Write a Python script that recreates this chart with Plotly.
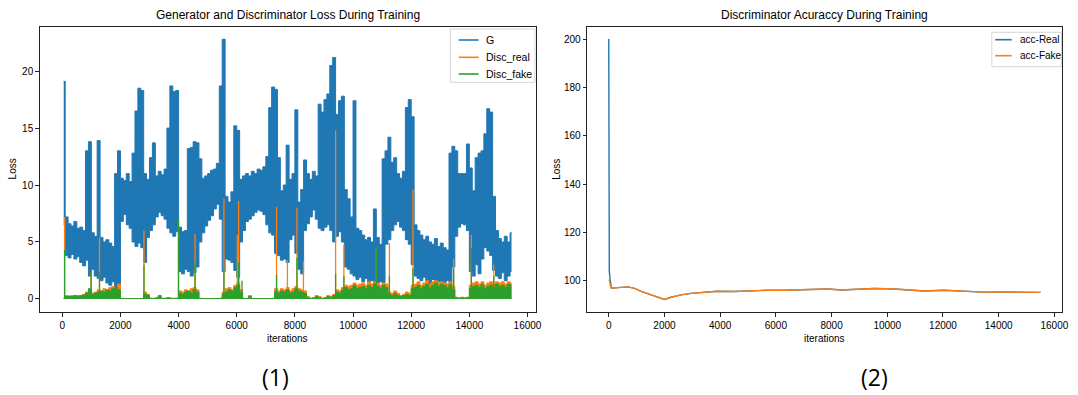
import plotly.graph_objects as go

W, H = 1078, 395
BIN = 100  # iterations per envelope bin

# ---------------- Panel (1): loss envelopes, one value per 100-iteration bin ----------------
g_low = [
    6.5, 3.8, 3.6, 3.9, 3.5, 3.7, 3.2, 2.9, 3.4, 2.0,
    2.6, 2.0, 1.8, 1.6, 1.9, 1.4, 1.2, 1.5, 1.0, 1.2,
    6.8, 7.4, 6.5, 6.2, 5.0, 4.6, 4.9, 4.5, 3.2, 5.4,
    6.0, 6.5, 7.2, 7.6, 7.3, 7.0, 6.2, 5.8, 5.5, 5.9,
    2.4, 2.2, 2.6, 2.4, 2.0, 2.3, 2.8, 5.0, 5.8, 6.4,
    6.9, 7.3, 7.9, 8.3, 7.0, 2.4, 3.5, 3.4, 3.2, 2.5,
    1.9, 5.0, 6.0, 6.8, 7.0, 7.3, 7.6, 7.8, 7.7, 7.4,
    6.5, 5.8, 5.6, 4.0, 3.8, 3.4, 3.5, 3.2, 5.2, 5.6,
    4.0, 2.6, 2.2, 6.0, 6.6, 7.2, 7.8, 7.0, 6.2, 6.0,
    6.3, 6.5, 6.0, 5.0, 5.5, 5.9, 5.0, 2.8, 2.6, 2.2,
    2.0, 1.7, 1.9, 1.5, 1.8, 1.4, 1.6, 1.3, 1.2, 1.5,
    1.4, 4.8, 5.2, 6.0, 6.5, 6.8, 6.3, 6.0, 5.2, 4.8,
    3.0, 2.0, 1.8, 1.6, 1.9, 1.5, 1.3, 1.7, 1.2, 1.5,
    1.4, 1.1, 1.6, 1.4, 2.8, 5.5, 6.3, 6.6, 6.5, 6.0,
    2.4, 2.0, 3.0, 2.2, 3.5, 4.5, 4.2, 3.8, 2.5, 2.0,
    1.8, 2.3, 1.6, 2.0, 2.4,
]
g_high = [
    19.1, 7.2, 6.6, 6.4, 6.8, 6.2, 6.3, 6.0, 13.0, 13.8,
    5.8, 5.5, 13.9, 5.4, 5.0, 5.2, 4.9, 4.6, 11.0, 13.0,
    10.6, 10.4, 11.0, 10.3, 12.8, 16.5, 18.5, 18.3, 11.0, 10.5,
    12.4, 13.7, 10.8, 11.2, 10.9, 11.4, 15.0, 18.7, 18.2, 18.3,
    6.3, 5.9, 6.0, 13.2, 13.3, 13.8, 13.7, 12.3, 10.6, 10.8,
    11.0, 11.3, 11.4, 11.9, 18.7, 22.8, 9.0, 8.5, 9.4, 15.2,
    14.8, 10.5, 10.8, 11.0, 10.8, 11.2, 11.0, 11.4, 11.3, 11.6,
    12.5, 16.8, 18.6, 18.4, 12.4, 9.5, 10.0, 13.5, 10.5, 11.0,
    16.6, 8.5, 9.6, 12.2, 11.0, 10.5, 11.2, 10.8, 17.1, 16.4,
    17.5, 18.0, 20.5, 21.2, 16.2, 17.4, 17.8, 9.6, 8.8, 7.2,
    17.4, 6.2, 6.0, 5.6, 5.2, 5.4, 5.0, 7.9, 5.4, 4.8,
    12.3, 13.0, 14.2, 12.0, 12.4, 11.0, 10.6, 11.2, 16.8, 17.5,
    16.0, 6.5, 6.0, 5.6, 5.2, 5.5, 5.0, 4.8, 5.3, 4.6,
    4.9, 4.5, 4.3, 12.8, 13.4, 13.0, 11.0, 11.0, 11.0, 13.6,
    11.5, 9.5, 12.4, 12.8, 13.0, 14.5, 16.7, 16.4, 9.0, 6.0,
    5.3, 5.0, 5.5, 5.0, 5.8,
]
real_level = [
    0.05, 0.3, 0.2, 0.3, 0.25, 0.3, 0.2, 0.4, 0.6, 0.7,
    0.5, 0.6, 0.8, 0.6, 0.9, 0.7, 1.0, 1.1, 0.9, 1.3,
    0.04, 0.03, 0.03, 0.03, 0.03, 0.03, 0.03, 0.04, 0.6, 0.4,
    0.05, 0.05, 0.1, 0.2, 0.05, 0.05, 0.1, 0.05, 0.05, 0.05,
    0.7, 0.6, 0.8, 0.6, 0.9, 1.0, 0.8, 0.05, 0.03, 0.03,
    0.03, 0.03, 0.03, 0.03, 0.05, 0.6, 0.9, 1.0, 0.8, 1.2,
    1.4, 0.8, 0.05, 0.03, 0.3, 0.03, 0.03, 0.03, 0.03, 0.03,
    0.03, 0.03, 0.05, 0.9, 0.7, 0.9, 0.8, 1.0, 0.7, 0.9,
    1.1, 0.9, 0.8, 0.7, 0.2, 0.05, 0.1, 0.3, 0.2, 0.05,
    0.1, 0.3, 0.2, 0.4, 0.8, 0.7, 1.0, 1.2, 1.1, 1.2,
    1.4, 1.2, 1.3, 1.4, 1.2, 1.5, 1.3, 1.5, 1.4, 1.2,
    1.4, 1.3, 0.6, 0.5, 0.7, 0.5, 0.3, 0.4, 0.6, 0.5,
    1.2, 1.3, 1.5, 1.2, 1.4, 1.6, 1.3, 1.5, 1.6, 1.4,
    1.5, 1.4, 1.3, 1.5, 1.1, 0.15, 0.1, 0.15, 0.1, 0.15,
    1.2, 1.4, 1.5, 1.3, 1.5, 1.2, 1.4, 1.5, 1.3, 1.5,
    1.4, 1.5, 1.3, 1.5, 1.4,
]
fake_level = [
    0.05, 0.2, 0.25, 0.2, 0.3, 0.2, 0.3, 0.35, 0.5, 0.9,
    0.4, 0.5, 0.6, 0.7, 0.6, 0.8, 0.7, 0.9, 1.0, 0.8,
    0.03, 0.03, 0.03, 0.03, 0.03, 0.03, 0.03, 0.03, 0.4, 0.3,
    0.05, 0.04, 0.08, 0.3, 0.04, 0.05, 0.1, 0.05, 0.04, 0.05,
    0.5, 0.4, 0.6, 0.7, 0.5, 0.8, 0.6, 0.04, 0.03, 0.03,
    0.03, 0.03, 0.03, 0.03, 0.05, 0.4, 0.6, 0.8, 0.7, 1.0,
    1.2, 0.6, 0.04, 0.03, 0.2, 0.03, 0.03, 0.03, 0.03, 0.03,
    0.03, 0.03, 0.04, 0.6, 0.5, 0.7, 0.6, 0.8, 0.5, 0.6,
    0.9, 0.7, 0.6, 0.5, 0.1, 0.05, 0.08, 0.2, 0.1, 0.05,
    0.1, 0.2, 0.15, 0.3, 0.6, 0.5, 0.8, 1.0, 0.8, 0.9,
    1.2, 0.9, 1.0, 1.1, 0.9, 1.2, 1.0, 1.3, 1.1, 0.9,
    1.2, 1.0, 0.4, 0.3, 0.5, 0.3, 0.2, 0.3, 0.4, 0.3,
    0.9, 1.0, 1.2, 0.9, 1.1, 1.3, 1.0, 1.2, 1.4, 1.1,
    1.3, 1.2, 1.0, 1.3, 0.8, 0.1, 0.05, 0.1, 0.05, 0.1,
    0.9, 1.1, 1.2, 1.0, 1.3, 0.9, 1.1, 1.2, 1.0, 1.3,
    1.1, 1.2, 1.0, 1.3, 1.2,
]
real_spike_iters = [80, 990, 1280, 2810, 3997, 4565, 5560, 6020, 6065, 7370, 7743,
                    8071, 8294, 9400, 9685, 10800, 11250, 12060, 13460, 14068, 14840]
real_spike_vals = [7.2, 2.3, 5.4, 6.0, 6.8, 5.7, 8.8, 5.6, 8.6, 8.1, 3.4,
                   8.0, 3.3, 14.8, 4.7, 4.3, 4.9, 9.6, 3.5, 5.6, 3.0]
fake_spike_iters = [80, 990, 1280, 2810, 3997, 4565, 5560, 6065, 6180, 7370,
                    8071, 9400, 9685, 10800, 11250, 12060, 13460, 14068, 14840]
fake_spike_vals = [4.3, 2.5, 2.4, 3.0, 7.0, 3.2, 2.5, 3.2, 1.6, 2.1,
                   3.6, 2.2, 2.0, 4.6, 2.0, 2.7, 2.7, 4.5, 2.0]

loss_names = ["G", "Disc_real", "Disc_fake"]
loss_colors = ["#1f77b4", "#ff7f0e", "#2ca02c"]

# ---------------- Panel (2): discriminator accuracy ----------------
acc_iters = [0, 30, 60, 95, 333, 690, 929, 1167, 1524, 1762, 2000, 2238, 2595, 2952,
             3310, 3905, 4500, 5095, 5690, 6286, 6881, 7393, 7714, 7869, 8345, 8940,
             9536, 10250, 10726, 11321, 12036, 12750, 13464, 14060, 14774, 15500]
acc_fake = [100.5, 100.0, 97.8, 96.9, 97.2, 97.5, 96.9, 95.6, 94.2, 93.1, 92.3, 93.2,
            94.2, 94.8, 95.2, 95.7, 95.6, 96.0, 96.1, 96.1, 96.4, 96.6, 96.8, 96.6,
            96.2, 96.6, 96.8, 96.6, 96.2, 95.8, 96.1, 95.6, 95.3, 95.4, 95.4, 95.2]
acc_real_iters = [0, 4, 10, 20, 40, 70, 95, 333, 690, 929, 1167, 1524, 1762, 2000, 2238,
                  2595, 2952, 3310, 3905, 4500, 5095, 5690, 6286, 6881, 7393, 7714, 7869,
                  8345, 8940, 9536, 10250, 10726, 11321, 12036, 12750, 13464, 14060,
                  14774, 15500]
acc_real = [200.0, 150.0, 118.0, 104.0, 101.5, 98.0, 96.9, 97.2, 97.5, 96.9, 95.6, 94.2,
            93.1, 92.3, 93.2, 94.2, 94.8, 95.2, 95.7, 95.6, 96.0, 96.1, 96.1, 96.4, 96.6,
            96.8, 96.6, 96.2, 96.6, 96.8, 96.6, 96.2, 95.8, 96.1, 95.6, 95.3, 95.4, 95.4,
            95.2]
acc_names = ["acc-Real", "acc-Fake"]
acc_colors = ["#1f77b4", "#ff7f0e"]

x_ticks = list(range(0, 16001, 2000))
x_tick_text = [str(v) for v in x_ticks]
loss_ticks = [0, 5, 10, 15, 20]
acc_ticks = [100, 120, 140, 160, 180, 200]

bin_x = [i * BIN + BIN // 2 for i in range(len(g_low))]


def spikes_xy(its, vals):
    xs, ys = [], []
    for it, v in zip(its, vals):
        xs += [it, it, None]
        ys += [0.0, v, None]
    return xs, ys


FONT = "Liberation Sans, Arial, sans-serif"
fig = go.Figure()
common = dict(mode="lines", xaxis="x", yaxis="y", showlegend=False, hoverinfo="skip")
# G: band between the per-bin low and high envelopes (stepped, like dense noisy samples)
fig.add_trace(go.Scatter(x=bin_x, y=g_low, name=loss_names[0],
                         line=dict(color=loss_colors[0], width=1, shape="hvh"), **common))
fig.add_trace(go.Scatter(x=bin_x, y=g_high, name=loss_names[0], fill="tonexty",
                         fillcolor=loss_colors[0],
                         line=dict(color=loss_colors[0], width=1, shape="hvh"), **common))
# Disc_real then Disc_fake: noise floor bands plus spikes
for lv, sp_it, sp_v, c, n in [
        (real_level, real_spike_iters, real_spike_vals, loss_colors[1], loss_names[1]),
        (fake_level, fake_spike_iters, fake_spike_vals, loss_colors[2], loss_names[2])]:
    fig.add_trace(go.Scatter(x=bin_x, y=lv, name=n, fill="tozeroy", fillcolor=c,
                             line=dict(color=c, width=1, shape="hvh"), **common))
    sx, sy = spikes_xy(sp_it, sp_v)
    fig.add_trace(go.Scatter(x=sx, y=sy, name=n, line=dict(color=c, width=1.3),
                             connectgaps=False, **common))

for xs, ys, c, n in [(acc_real_iters, acc_real, acc_colors[0], acc_names[0]),
                     (acc_iters, acc_fake, acc_colors[1], acc_names[1])]:
    fig.add_trace(go.Scatter(x=xs, y=ys, mode="lines", name=n,
                             line=dict(color=c, width=1.4), xaxis="x2", yaxis="y2",
                             showlegend=False, hoverinfo="skip"))


def px_x(p):
    return p / W


def px_y(p):
    return 1 - p / H


ax_common = dict(showline=True, mirror=True, linecolor="#222", linewidth=1,
                 ticks="outside", ticklen=3.5, tickwidth=0.8, tickcolor="#222",
                 showgrid=False, zeroline=False,
                 tickfont=dict(family=FONT, size=10, color="black"))
ydom = [px_y(312), px_y(26.7)]
fig.update_layout(
    width=W, height=H, margin=dict(l=0, r=0, t=0, b=0),
    paper_bgcolor="white", plot_bgcolor="white",
    xaxis=dict(domain=[px_x(40), px_x(539)], range=[-775, 16275], tickvals=x_ticks,
               ticktext=x_tick_text, anchor="y", **ax_common),
    yaxis=dict(domain=ydom, range=[-1.15, 23.9], tickvals=loss_ticks, anchor="x",
               **ax_common),
    xaxis2=dict(domain=[px_x(591), px_x(1069)], range=[-775, 16275], tickvals=x_ticks,
                ticktext=x_tick_text, anchor="y2", **ax_common),
    yaxis2=dict(domain=ydom, range=[87.1, 205.1], tickvals=acc_ticks, anchor="x2",
                **ax_common),
)

ann = []


def text(x, y, s, size, family=FONT, angle=0, xanchor="center"):
    ann.append(dict(x=px_x(x), y=px_y(y), xref="paper", yref="paper", text=s,
                    showarrow=False, xanchor=xanchor, yanchor="middle",
                    textangle=angle, font=dict(family=family, size=size, color="black")))


text(289.5, 15, "Generator and Discriminator Loss During Training", 12)
text(830, 15, "Discriminator Acuraccy During Training", 12)
text(289.5, 338, "iterations", 10)
text(830, 338, "iterations", 10)
text(12.5, 169, "Loss", 10, angle=-90)
text(559.5, 169, "Loss", 10, angle=-90)
text(277, 377, "(1)", 23, family="Open Sans, Noto Sans, sans-serif")
text(880, 377, "(2)", 23, family="Open Sans, Noto Sans, sans-serif")

shapes = []


def legend(box, rows, line_x, text_x, names, colors, size):
    x0, y0, x1, y1 = box
    shapes.append(dict(type="rect", xref="paper", yref="paper", x0=px_x(x0), x1=px_x(x1),
                       y0=px_y(y1), y1=px_y(y0), line=dict(color="#d5d5d5", width=1),
                       fillcolor="rgba(255,255,255,0.85)", layer="above"))
    for yy, n, c in zip(rows, names, colors):
        shapes.append(dict(type="line", xref="paper", yref="paper",
                           x0=px_x(line_x[0]), x1=px_x(line_x[1]), y0=px_y(yy), y1=px_y(yy),
                           line=dict(color=c, width=1.6), layer="above"))
        text(text_x, yy, n, size, xanchor="left")


legend((453.3, 29, 538.5, 82.3), [40, 57.3, 74], (461.7, 481.7), 486.7,
       loss_names, loss_colors, 10.5)
legend((998.3, 32.3, 1068.5, 66.7), [39.7, 55.7], (1001.7, 1018.3), 1025,
       acc_names, acc_colors, 10)

fig.update_layout(annotations=ann, shapes=shapes)
fig.write_html("out.html", config={"displayModeBar": False},
               post_script="document.body.style.margin='0';document.body.style.overflow='hidden';")
